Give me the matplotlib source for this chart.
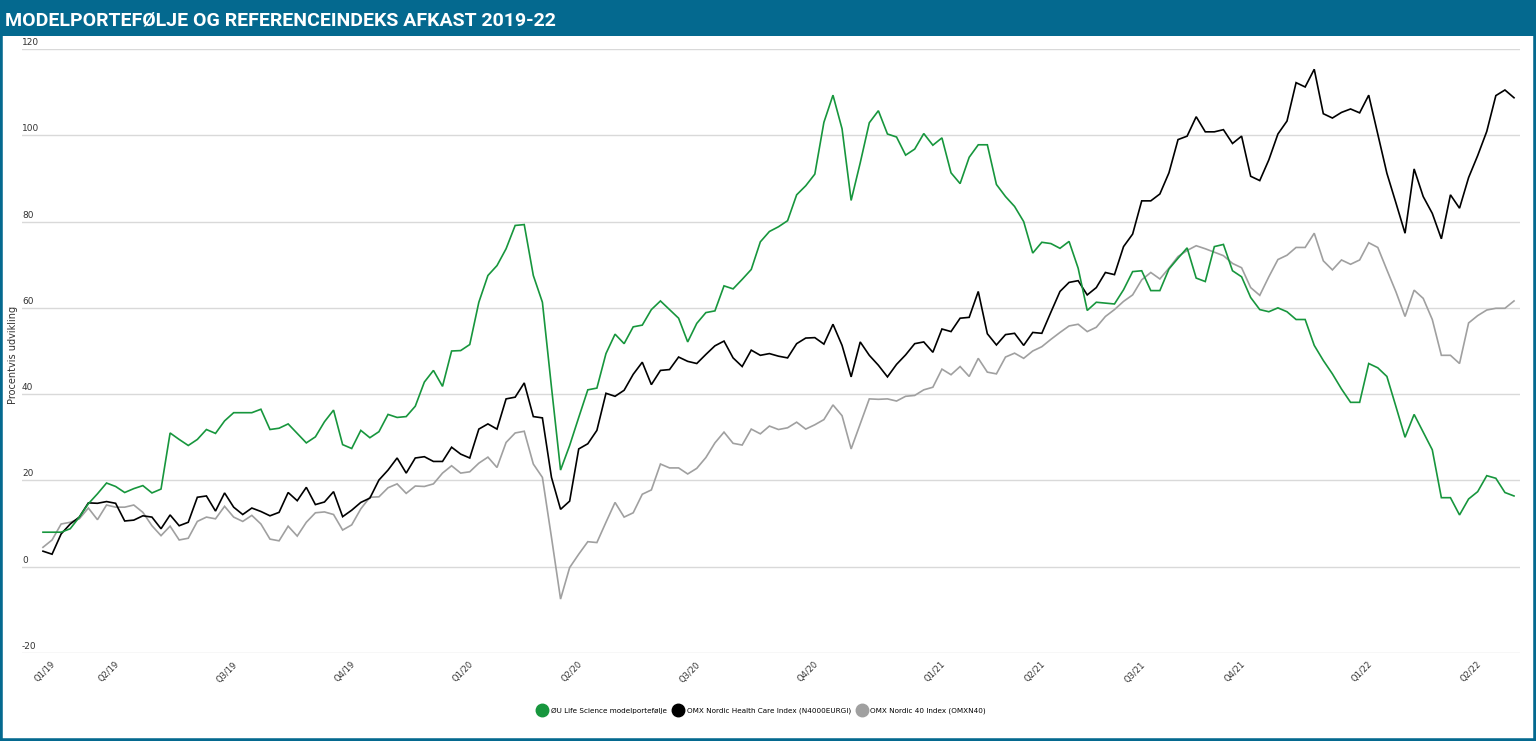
import matplotlib
matplotlib.use("Agg")
import matplotlib.pyplot as plt
import matplotlib.transforms as mtrans
from matplotlib.patches import Rectangle
from matplotlib.lines import Line2D

# weekly values, Q1/19 .. Q2/22 (163 observations)
green = [8.0, 8.0, 8.0, 8.8, 11.5, 14.6, 16.9, 19.4, 18.6, 17.2, 18.1, 18.8, 17.1, 18.0, 31.0, 29.5, 28.1, 29.5, 31.8, 30.9,
         33.8, 35.7, 35.7, 35.7, 36.5, 31.8, 32.1, 33.1, 30.9, 28.7, 30.1, 33.6, 36.3, 28.3, 27.4, 31.6, 29.9, 31.3, 35.3, 34.6,
         34.8, 37.2, 42.8, 45.5, 41.8, 50.0, 50.1, 51.5, 61.3, 67.5, 69.8, 73.7, 79.1, 79.3, 67.5, 61.3, 41.6, 22.4, 28.1, 34.6,
         41.0, 41.4, 49.4, 53.9, 51.7, 55.6, 56.0, 59.6, 61.6, 59.6, 57.6, 52.1, 56.4, 58.9, 59.3, 65.1, 64.4, 66.6, 68.9, 75.3,
         77.7, 78.8, 80.2, 86.2, 88.3, 91.0, 103.0, 109.3, 101.5, 84.9, 93.6, 102.9, 105.7, 100.3, 99.6, 95.4, 96.8, 100.4, 97.7, 99.4,
         91.3, 88.8, 94.9, 97.8, 97.8, 88.6, 85.8, 83.5, 80.0, 72.7, 75.2, 74.9, 73.8, 75.4, 69.2, 59.4, 61.3, 61.1, 60.9, 64.2,
         68.4, 68.6, 64.0, 64.0, 69.0, 71.5, 73.9, 66.9, 66.1, 74.2, 74.7, 68.6, 67.2, 62.4, 59.6, 59.1, 60.0, 59.1, 57.3, 57.3,
         51.3, 47.8, 44.7, 41.2, 38.1, 38.1, 47.1, 46.1, 44.1, 37.1, 30.0, 35.3, 31.2, 27.1, 16.0, 16.0, 12.0, 15.7, 17.4, 21.1,
         20.5, 17.2, 16.4]
black = [3.6, 2.9, 7.6, 9.9, 11.5, 14.8, 14.7, 15.1, 14.7, 10.6, 10.8, 11.8, 11.5, 8.8, 12.0, 9.5, 10.3, 16.1, 16.4, 12.9,
         17.1, 13.8, 12.1, 13.6, 12.8, 11.8, 12.6, 17.2, 15.3, 18.4, 14.4, 15.0, 17.4, 11.6, 13.1, 14.9, 15.9, 20.1, 22.4, 25.2,
         21.7, 25.2, 25.5, 24.4, 24.4, 27.7, 26.1, 25.2, 31.9, 33.1, 31.9, 38.9, 39.3, 42.6, 34.8, 34.5, 20.7, 13.3, 15.2, 27.3,
         28.5, 31.6, 40.2, 39.5, 40.9, 44.6, 47.4, 42.2, 45.5, 45.7, 48.6, 47.6, 47.1, 49.2, 51.2, 52.3, 48.4, 46.4, 50.2, 49.0,
         49.4, 48.8, 48.4, 51.7, 53.0, 53.1, 51.6, 56.2, 51.3, 44.0, 52.1, 49.0, 46.7, 44.0, 46.9, 49.1, 51.7, 52.1, 49.7, 55.1,
         54.5, 57.6, 57.8, 63.8, 54.0, 51.4, 53.8, 54.1, 51.3, 54.3, 54.1, 59.0, 63.8, 65.9, 66.3, 63.0, 64.7, 68.2, 67.7, 74.2,
         77.1, 84.8, 84.8, 86.4, 91.3, 99.0, 99.8, 104.3, 100.8, 100.8, 101.3, 98.1, 99.8, 90.5, 89.5, 94.3, 100.3, 103.3, 112.2, 111.2,
         115.3, 105.0, 104.0, 105.3, 106.1, 105.2, 109.3, 100.2, 91.2, 84.3, 77.3, 92.2, 85.8, 81.9, 76.0, 86.2, 83.1, 90.2, 95.3, 100.9,
         109.2, 110.5, 108.7]
gray = [4.5, 6.2, 9.9, 10.3, 11.1, 13.6, 10.9, 14.3, 13.8, 13.8, 14.3, 12.6, 9.5, 7.2, 9.4, 6.2, 6.6, 10.5, 11.5, 11.1,
        14.0, 11.5, 10.5, 11.9, 9.9, 6.4, 6.0, 9.4, 7.1, 10.3, 12.5, 12.7, 12.1, 8.5, 9.7, 13.4, 16.1, 16.2, 18.3, 19.2,
        17.0, 18.7, 18.6, 19.2, 21.7, 23.4, 21.7, 22.0, 24.0, 25.4, 23.0, 28.8, 31.0, 31.4, 23.8, 20.7, 6.8, -7.5, -0.2, 2.9,
        5.8, 5.6, 10.3, 14.9, 11.5, 12.5, 16.8, 17.8, 23.8, 22.9, 22.9, 21.5, 22.8, 25.3, 28.7, 31.2, 28.6, 28.2, 31.9, 30.8,
        32.6, 31.8, 32.2, 33.5, 31.9, 32.9, 34.1, 37.5, 35.0, 27.3, 33.1, 38.9, 38.8, 38.9, 38.4, 39.5, 39.7, 41.0, 41.6, 45.8,
        44.5, 46.4, 44.1, 48.3, 45.1, 44.7, 48.6, 49.5, 48.3, 50.0, 51.0, 52.7, 54.3, 55.8, 56.2, 54.5, 55.5, 58.0, 59.6, 61.5,
        63.0, 66.5, 68.2, 66.7, 69.2, 71.9, 73.3, 74.4, 73.7, 72.9, 72.1, 70.3, 69.3, 64.7, 62.9, 67.2, 71.2, 72.2, 74.0, 74.0,
        77.3, 70.9, 68.8, 71.1, 70.1, 71.1, 75.1, 74.0, 68.8, 63.7, 58.0, 64.1, 62.2, 57.3, 49.0, 49.0, 47.1, 56.5, 58.2, 59.5,
        59.9, 59.9, 61.6]

tick_pos = [0, 7, 20, 33, 46, 58, 71, 84, 98, 109, 120, 131, 145, 157]
tick_labels = ['Q1/19', 'Q2/19', 'Q3/19', 'Q4/19', 'Q1/20', 'Q2/20', 'Q3/20', 'Q4/20',
               'Q1/21', 'Q2/21', 'Q3/21', 'Q4/21', 'Q1/22', 'Q2/22']
series_names = ['ØU Life Science modelportefølje', 'OMX Nordic Health Care Index (N4000EURGI)',
                'OMX Nordic 40 Index (OMXN40)']
colors = ['#17963d', '#000000', '#a0a0a0']

W, H = 1536, 741
fig = plt.figure(figsize=(W / 100, H / 100), dpi=100)
blue = '#04698f'

# frame + title bar
fig.patches.append(Rectangle((0, 0), 1, 1, transform=fig.transFigure, fill=False,
                             edgecolor=blue, linewidth=4, zorder=0))
fig.patches.append(Rectangle((0, (H - 36) / H), 1, 36 / H, transform=fig.transFigure,
                             facecolor=blue, edgecolor='none', zorder=0))
fig.text(5 / W, 1 - 20 / H, 'MODELPORTEFØLJE OG REFERENCEINDEKS AFKAST 2019-22',
         color='white', fontsize=14, fontweight='bold', family='Roboto',
         va='center', ha='left')

ax = fig.add_axes([22 / W, (H - 653) / H, 1498 / W, (653 - 49) / H])
x = list(range(len(green)))
for vals, c in zip([green, black, gray][::-1], colors[::-1]):
    ax.plot(x, vals, color=c, linewidth=1.2, solid_joinstyle='miter')

ax.set_xlim(-2.31, 162.66)
ax.set_ylim(-20, 120)
for s in ax.spines.values():
    s.set_visible(False)

yt = [-20, 0, 20, 40, 60, 80, 100, 120]
lab_off = mtrans.offset_copy(ax.get_yaxis_transform(), fig=fig, x=0, y=2, units='dots')
for v in yt:
    ax.axhline(v, color='#d9d9d9', linewidth=1.0, zorder=0)
    ax.text(0, v, str(v), transform=lab_off, fontsize=6.5,
            color='#333333', ha='left', va='bottom')
ax.set_yticks([])

ax.set_xticks(tick_pos)
ax.set_xticklabels(tick_labels, rotation=45, ha='right', rotation_mode='anchor',
                   fontsize=6, color='#333333')
ax.tick_params(axis='x', length=0, pad=5)
shift = mtrans.ScaledTranslation(8 / 100, 0, fig.dpi_scale_trans)
for lbl in ax.get_xticklabels():
    lbl.set_transform(lbl.get_transform() + shift)

fig.text(13 / W, 1 - 355 / H, 'Procentvis udvikling', rotation=90, fontsize=7,
         color='#333333', ha='center', va='center')

handles = [Line2D([], [], marker='o', linestyle='none', markersize=9,
                  markerfacecolor=c, markeredgecolor=c) for c in colors]
fig.legend(handles, series_names, loc='center', bbox_to_anchor=(762 / W, 1 - 711 / H),
           ncol=3, frameon=False, fontsize=5.2, handletextpad=0.6, columnspacing=0.9,
           handlelength=1.2)

fig.savefig('out.png', dpi=100)
